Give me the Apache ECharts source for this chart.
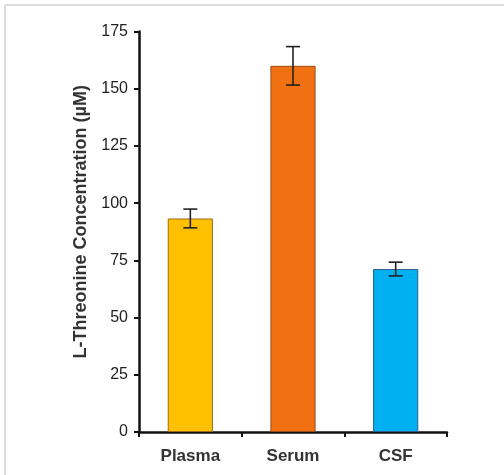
<!DOCTYPE html>
<html>
<head>
<meta charset="utf-8">
<script src="https://cdn.jsdelivr.net/npm/echarts@6/dist/echarts.min.js"></script>
<style>html,body{margin:0;padding:0;background:#fff;}#c{width:504px;height:475px;}</style>
</head>
<body>
<div id="c"></div>
<script>
var categories = ['Plasma', 'Serum', 'CSF'];
var means = [93.3, 160, 71.2];
var errors = [4.1, 8.4, 3.0];
var fills = ['#FFC000', '#F07012', '#00B0F0'];
var borders = ['#9C6A18', '#9A4A14', '#2A5E8C'];
var yTicks = [0, 25, 50, 75, 100, 125, 150, 175];

var chart = echarts.init(document.getElementById('c'));
var font = 'Arial, "Liberation Sans", sans-serif';
chart.setOption({
  animation: false,
  backgroundColor: '#fff',
  graphic: [
    { type: 'line', shape: { x1: 5, y1: 5, x2: 504, y2: 5 }, style: { stroke: '#dcdcdc', lineWidth: 2 } },
    { type: 'line', shape: { x1: 5, y1: 5, x2: 5, y2: 475 }, style: { stroke: '#dcdcdc', lineWidth: 2 } }
  ],
  grid: { left: 139, right: 57, top: 31.5, bottom: 43 },
  xAxis: {
    type: 'category',
    data: categories,
    boundaryGap: true,
    axisLine: { lineStyle: { color: '#111', width: 2.5 } },
    axisTick: { show: true, length: 5, lineStyle: { color: '#111', width: 2 } },
    axisLabel: { fontFamily: font, fontWeight: 'bold', fontSize: 17, color: '#333', margin: 16 }
  },
  yAxis: {
    type: 'value',
    min: yTicks[0],
    max: yTicks[yTicks.length - 1],
    interval: 25,
    name: 'L-Threonine Concentration (µM)',
    nameLocation: 'middle',
    nameGap: 40,
    nameTextStyle: { fontFamily: font, fontWeight: 'bold', fontSize: 18, color: '#333', padding: [0, 0, 0, 20] },
    axisLine: { show: true, lineStyle: { color: '#111', width: 2.5 } },
    axisTick: { show: true, length: 5, lineStyle: { color: '#111', width: 2 } },
    axisLabel: { fontFamily: font, fontSize: 16, color: '#222', margin: 11 },
    splitLine: { show: false }
  },
  series: [
    {
      type: 'bar',
      barWidth: '44%',
      data: means.map(function (v, i) {
        return { value: v, itemStyle: { color: fills[i], borderColor: borders[i], borderWidth: 1 } };
      }),
      z: 2
    },
    {
      type: 'custom',
      z: 3,
      data: means.map(function (v, i) { return [i, v - errors[i], v + errors[i]]; }),
      renderItem: function (params, api) {
        var x = api.value(0);
        var lo = api.coord([x, api.value(1)]);
        var hi = api.coord([x, api.value(2)]);
        var w = 7;
        var st = { stroke: '#222', lineWidth: 1.6 };
        return {
          type: 'group',
          children: [
            { type: 'line', shape: { x1: hi[0], y1: hi[1], x2: lo[0], y2: lo[1] }, style: st },
            { type: 'line', shape: { x1: hi[0] - w, y1: hi[1], x2: hi[0] + w, y2: hi[1] }, style: st },
            { type: 'line', shape: { x1: lo[0] - w, y1: lo[1], x2: lo[0] + w, y2: lo[1] }, style: st }
          ]
        };
      }
    }
  ]
});
</script>
</body>
</html>
